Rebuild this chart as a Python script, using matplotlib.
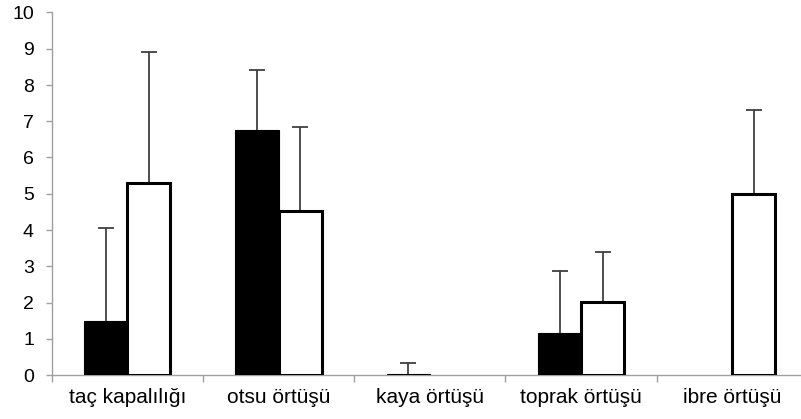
import numpy as np
import matplotlib.pyplot as plt

plt.rcParams['font.family'] = ['Liberation Sans', 'DejaVu Sans']

categories = ["taç kapalılığı", "otsu örtüşü", "kaya örtüşü", "toprak örtüşü", "ibre örtüşü"]
black_vals = [1.5, 6.75, 0.03, 1.17, 0.0]
black_err = [2.55, 1.67, 0.29, 1.71, 0.0]
white_vals = [5.3, 4.52, 0.0, 2.02, 4.98]
white_err = [3.62, 2.33, 0.0, 1.38, 2.34]

fig = plt.figure(figsize=(8.01, 4.19), dpi=100)
ax = fig.add_axes([51.7 / 801, 44 / 419, (808 - 51.7) / 801, (375 - 12.5) / 419])

x = np.arange(len(categories))
w = 0.285
ecol = '#404040'


def upper_err(xpos, v, e, z):
    _, caps, _ = ax.errorbar(xpos, v, yerr=[[0], [e]], color=ecol, elinewidth=1.3,
                             capsize=6, capthick=1.3, zorder=z)
    caps[0].set_visible(False)  # only the top cap


# black series
for xi, v, e in zip(x, black_vals, black_err):
    if v > 0:
        ax.bar(xi - w / 2, v, w, color='black', edgecolor='black', linewidth=0.8, zorder=2)
    if e > 0:
        upper_err(xi - w / 2, v, e, 3)

# white series
for xi, v, e in zip(x, white_vals, white_err):
    if v > 0:
        ax.bar(xi + w / 2, v, w, color='white', edgecolor='black', linewidth=2.2, zorder=2)
    if e > 0:
        upper_err(xi + w / 2, v, e, 1)

ax.set_xlim(-0.5, len(categories) - 0.5)
ax.set_ylim(0, 10)
ax.set_yticks(range(0, 11))
ax.tick_params(axis='y', labelsize=14, length=4.3, width=1, color='#a0a0a0', pad=8.5)

ax.set_xticks(x)
ax.set_xticklabels(categories, fontsize=15)
ax.tick_params(axis='x', length=0, pad=9)
ax.set_xticks(np.arange(-0.5, len(categories)), minor=True)
ax.tick_params(axis='x', which='minor', length=5, width=1, color='#a0a0a0')

for s in ['top', 'right']:
    ax.spines[s].set_visible(False)
for s in ['left', 'bottom']:
    ax.spines[s].set_color('#a0a0a0')
    ax.spines[s].set_linewidth(1)
ax.spines['bottom'].set_zorder(0)

fig.savefig("out.png", dpi=100)
